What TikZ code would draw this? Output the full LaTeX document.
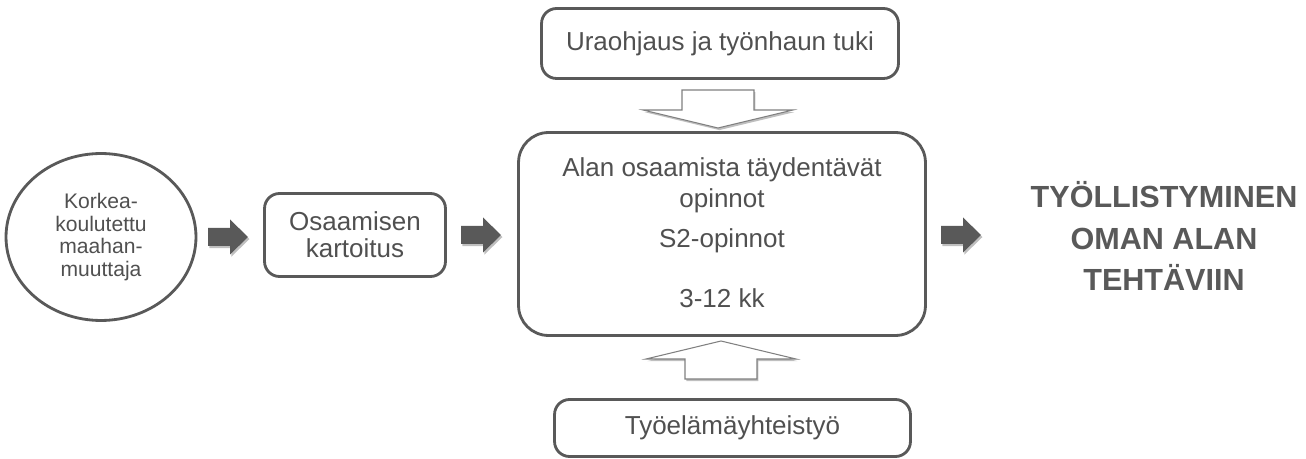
\documentclass[tikz,border=0pt]{standalone}
\usepackage{fontspec}
\setmainfont{Liberation Sans}
\usetikzlibrary{shapes.geometric,shadows}
\definecolor{linegray}{HTML}{595959}
\definecolor{textgray}{HTML}{505050}
\definecolor{arrowgray}{HTML}{595959}
\definecolor{rimgray}{HTML}{808080}
\tikzset{
  stepbox/.style={draw=linegray, line width=1.6pt, rounded corners=0.3cm,
    text=textgray, font=\fontsize{14.8}{15.4}\selectfont, align=center, inner sep=0pt},
  bubble/.style={ellipse, draw=linegray, line width=1.6pt, text=textgray,
    font=\fontsize{12}{13}\selectfont, align=center, inner sep=0pt},
  boxtext/.style={text=textgray, font=\fontsize{14.8}{15.4}\selectfont, anchor=base, inner sep=0pt},
  goal/.style={text=linegray, font=\fontsize{17.4}{23.6}\selectfont\bfseries, align=center, inner sep=0pt},
  soft/.style={drop shadow={shadow xshift=0.8pt, shadow yshift=-1.2pt, opacity=0.25, fill=black}},
  fatarrow/.pic={
    \fill[arrowgray, soft] (-20,-9) -- (2,-9) -- (2,-17.5) -- (20,0) -- (2,17.5) -- (2,9) -- (-20,9) -- cycle;
  },
  hollowarrow/.pic={
    \filldraw[fill=white, draw=rimgray, line width=0.6pt, soft]
      (-36,-19) -- (36,-19) -- (36,1) -- (75,1) -- (0,19) -- (-75,1) -- (-36,1) -- cycle;
  }
}
\begin{document}
\begin{tikzpicture}[x=0.02cm, y=-0.02cm]
  \useasboundingbox (0,0) rectangle (1306,459);
  % vaiheet
  \node[bubble, minimum width=3.8cm, minimum height=3.34cm] (migrant) at (101,237)
    {Korkea-\\koulutettu\\maahan-\\muuttaja};
  \node[stepbox, minimum width=3.62cm, minimum height=1.66cm] (mapping) at (355,235)
    {Osaamisen\\kartoitus};
  \node[stepbox, rounded corners=0.6cm, minimum width=8.14cm, minimum height=4.06cm] (studies) at (722,234) {};
  \node[boxtext] (studies1) at (722,177) {Alan osaamista täydentävät};
  \node[boxtext] (studies2) at (722,208) {opinnot};
  \node[boxtext] (studies3) at (722,248) {S2-opinnot};
  \node[boxtext] (studies4) at (722,308) {3-12 kk};
  \node[stepbox, minimum width=7.14cm, minimum height=1.4cm] (guidance) at (720,43.5)
    {Uraohjaus ja työnhaun tuki};
  \node[stepbox, minimum width=7.12cm, minimum height=1.14cm] (worklife) at (732.5,428)
    {Työelämäyhteistyö};
  \node[goal] (goal) at (1164,236) {TYÖLLISTYMINEN\\OMAN ALAN\\TEHTÄVIIN};
  % nuolet
  \pic at (228,237) {fatarrow};
  \pic at (481,235) {fatarrow};
  \pic at (961,235) {fatarrow};
  \pic at (718,109) {hollowarrow};
  \pic[rotate=180] at (721,360) {hollowarrow};
\end{tikzpicture}
\end{document}
